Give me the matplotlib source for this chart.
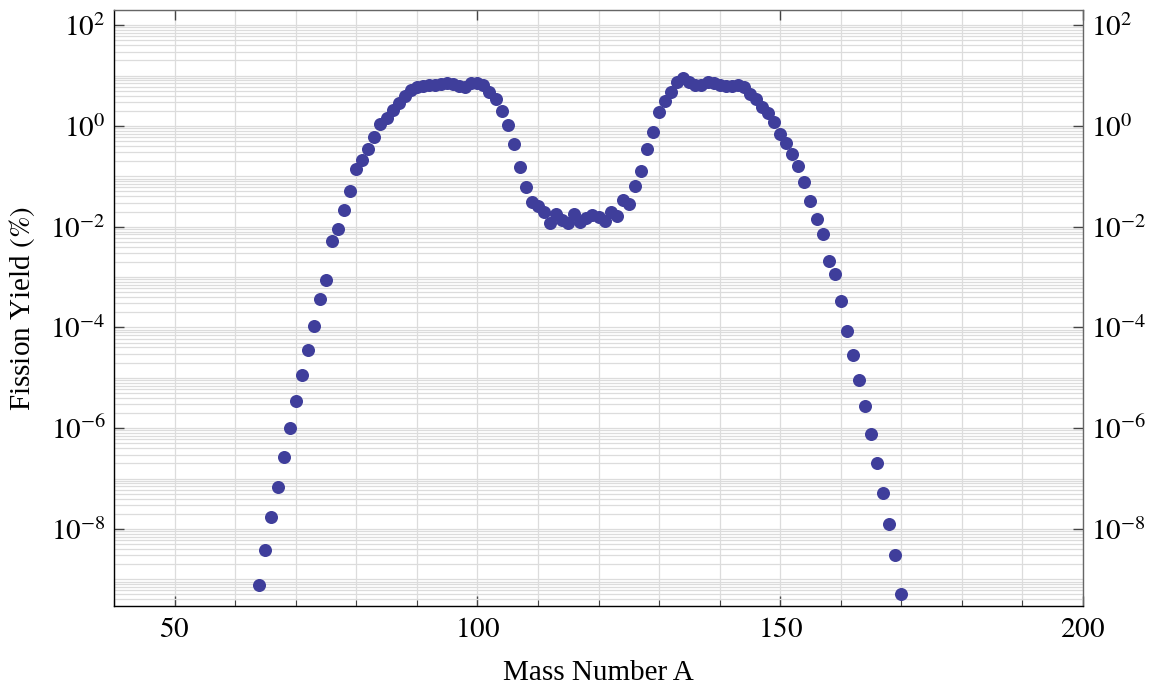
import matplotlib
matplotlib.use("Agg")
import matplotlib.pyplot as plt
from matplotlib.ticker import FixedLocator, MultipleLocator, LogLocator, NullFormatter, FuncFormatter
import numpy as np

mass_number = list(range(64, 171))
fission_yield = [
    7.8e-10, 3.8e-9, 1.7e-8, 6.8e-8, 2.7e-7, 1.0e-6, 3.5e-6, 1.15e-5, 3.5e-5, 1.07e-4,   # 64-73
    3.7e-4, 8.7e-4, 5.1e-3, 8.9e-3, 0.021, 0.051, 0.138, 0.21, 0.355, 0.60,           # 74-83
    1.07, 1.45, 2.04, 2.82, 3.98, 5.25, 5.9, 6.3, 6.5, 6.6,                            # 84-93
    6.9, 7.1, 6.9, 6.3, 5.9, 7.0, 7.2, 6.5, 4.8, 3.5,                                  # 94-103
    2.0, 1.05, 0.44, 0.15, 0.062, 0.031, 0.026, 0.020, 0.0118, 0.0178,                 # 104-113
    0.0135, 0.0118, 0.0178, 0.0123, 0.0148, 0.017, 0.0155, 0.0129, 0.020, 0.016,       # 114-123
    0.034, 0.028, 0.065, 0.129, 0.355, 0.76, 1.9, 3.1, 4.7, 7.4,                       # 124-133
    8.9, 7.4, 6.6, 6.5, 7.6, 7.1, 6.6, 6.2, 6.3, 6.5,                                  # 134-143
    5.9, 4.3, 3.4, 2.4, 1.8, 1.17, 0.69, 0.45, 0.275, 0.158,                           # 144-153
    0.076, 0.032, 0.014, 0.0071, 2.1e-3, 1.15e-3, 3.3e-4, 8.5e-5, 2.8e-5, 9.1e-6,      # 154-163
    2.8e-6, 7.8e-7, 2.0e-7, 5.1e-8, 1.26e-8, 3.0e-9, 5.0e-10,                          # 164-170
]

x_ticks = [50, 100, 150, 200]
y_tick_exponents = [-8, -6, -4, -2, 0, 2]

plt.rcParams['mathtext.fontset'] = 'stix'
plt.rcParams['font.family'] = ['Liberation Serif', 'DejaVu Serif']

fig = plt.figure(figsize=(11.5, 6.86), dpi=100)
ax = fig.add_axes([114/1150, 1-606/686, (1083-114)/1150, (606-10)/686])

ax.scatter(mass_number, fission_yield, s=88, color='#3F3E9B', zorder=3, linewidths=0)

ax.set_yscale('log')
ax.set_xlim(40, 200)
ax.set_ylim(2.95e-10, 2.0e2)

ax.xaxis.set_major_locator(FixedLocator(x_ticks))
ax.xaxis.set_minor_locator(MultipleLocator(10))
ax.yaxis.set_major_locator(FixedLocator([10.0**e for e in y_tick_exponents]))
ax.yaxis.set_minor_locator(LogLocator(base=10, subs=np.arange(1, 10), numticks=40))
ax.yaxis.set_minor_formatter(NullFormatter())

ax.xaxis.set_major_formatter(FuncFormatter(lambda v, p: r'$%d$' % v))
ax.yaxis.set_major_formatter(FuncFormatter(lambda v, p: r'$10^{%d}$' % round(np.log10(v))))

ax.grid(True, which='both', axis='both', color='#dcdcdc', linewidth=0.9, zorder=0)
ax.set_axisbelow(True)

ax.tick_params(axis='both', which='major', direction='in', length=7, width=1.0,
               labelsize=21, top=True, right=True, labelright=True, color='#444444')
ax.tick_params(axis='x', which='minor', direction='in', length=4, width=0.8, top=False, color='#444444')
ax.tick_params(axis='y', which='minor', length=0)
ax.tick_params(axis='x', which='major', pad=8)
ax.tick_params(axis='y', which='major', pad=6)

for side in ['left', 'bottom']:
    ax.spines[side].set_color('black')
    ax.spines[side].set_linewidth(1.0)
for side in ['top', 'right']:
    ax.spines[side].set_color('#666666')
    ax.spines[side].set_linewidth(1.0)

ax.set_xlabel('Mass Number A', fontsize=21, labelpad=12)
ax.set_ylabel(r'Fission Yield $(\mathit{\%})$', fontsize=21, labelpad=10)

fig.savefig('out.png', dpi=100)
